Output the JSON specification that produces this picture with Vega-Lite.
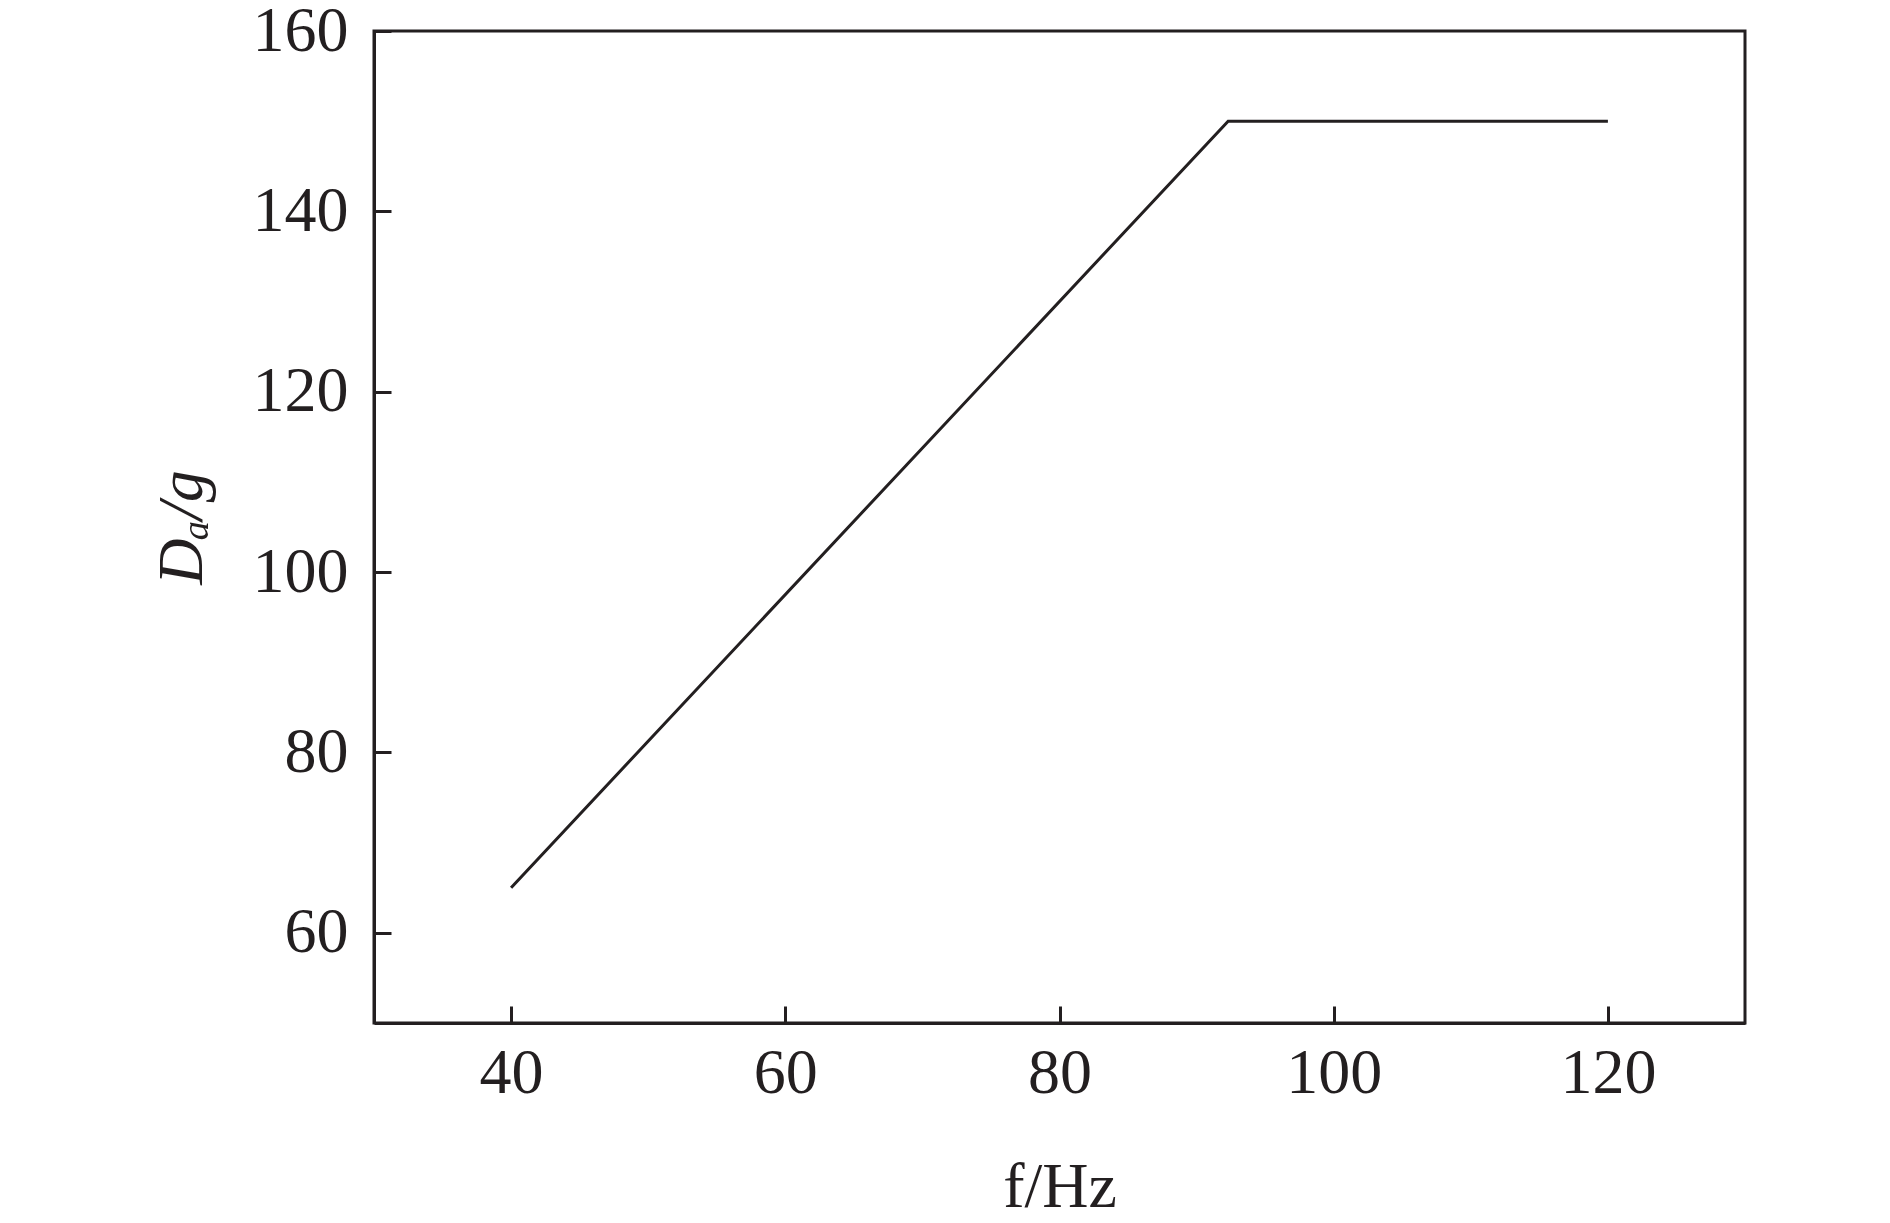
{
  "$schema": "https://vega.github.io/schema/vega-lite/v6.json",
  "autosize": "none",
  "width": 1371,
  "height": 992,
  "padding": {"left": 374, "top": 31, "right": 145, "bottom": 200},
  "background": "white",
  "config": {
    "view": {"stroke": "#231f20", "strokeWidth": 3},
    "font": "Times New Roman, Liberation Serif, serif"
  },
  "data": {
    "values": [
      {"f": 40, "Da": 65},
      {"f": 92.3, "Da": 150},
      {"f": 120, "Da": 150}
    ]
  },
  "mark": {"type": "line", "color": "#231f20", "strokeWidth": 3},
  "encoding": {
    "x": {
      "field": "f",
      "type": "quantitative",
      "scale": {"domain": [30, 130], "nice": false, "zero": false},
      "axis": {
        "title": "f/Hz",
        "values": [40, 60, 80, 100, 120],
        "grid": false,
        "domainColor": "#231f20",
        "domainWidth": 3,
        "tickColor": "#231f20",
        "tickWidth": 3,
        "tickSize": -17,
        "labelFont": "Times New Roman, Liberation Serif, serif",
        "labelFontSize": 64,
        "labelColor": "#231f20",
        "labelPadding": 35,
        "titleFont": "Times New Roman, Liberation Serif, serif",
        "titleFontSize": 64,
        "titleFontWeight": "normal",
        "titleColor": "#231f20",
        "titlePadding": 50
      }
    },
    "y": {
      "field": "Da",
      "type": "quantitative",
      "scale": {"domain": [50, 160], "nice": false, "zero": false},
      "axis": {
        "title": "Dₐ/g",
        "values": [60, 80, 100, 120, 140, 160],
        "grid": false,
        "domainColor": "#231f20",
        "domainWidth": 3,
        "tickColor": "#231f20",
        "tickWidth": 3,
        "tickSize": -17,
        "labelFont": "Times New Roman, Liberation Serif, serif",
        "labelFontSize": 64,
        "labelColor": "#231f20",
        "labelPadding": 43,
        "titleFont": "Times New Roman, Liberation Serif, serif",
        "titleFontSize": 64,
        "titleFontStyle": "italic",
        "titleFontWeight": "normal",
        "titleColor": "#231f20",
        "titlePadding": 38
      }
    }
  }
}
